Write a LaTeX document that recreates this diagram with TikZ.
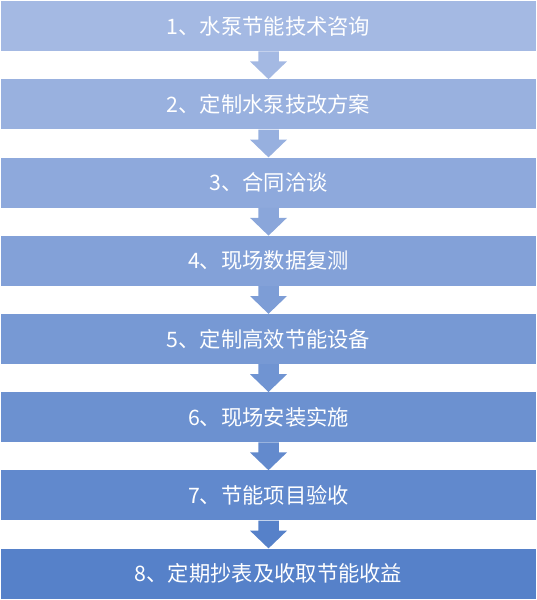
\documentclass[tikz,border=0pt]{standalone}
\usepackage{fontspec}
\newfontfamily\cjk{Noto Sans CJK SC}
\usetikzlibrary{calc}
\definecolor{cfirst}{HTML}{A4B9E3}
\definecolor{clast}{HTML}{5681C9}
\colorlet{c1}{clast!0!cfirst}
\colorlet{c2}{clast!14.3!cfirst}
\colorlet{c3}{clast!28.6!cfirst}
\colorlet{c4}{clast!42.9!cfirst}
\colorlet{c5}{clast!57.1!cfirst}
\colorlet{c6}{clast!71.4!cfirst}
\colorlet{c7}{clast!85.7!cfirst}
\colorlet{c8}{clast!100!cfirst}
\colorlet{a1}{clast!0!cfirst}
\colorlet{a2}{clast!16.7!cfirst}
\colorlet{a3}{clast!33.3!cfirst}
\colorlet{a4}{clast!50!cfirst}
\colorlet{a5}{clast!66.7!cfirst}
\colorlet{a6}{clast!83.3!cfirst}
\colorlet{a7}{clast!100!cfirst}
\tikzset{
  stepbox/.style={minimum width=534.4pt, minimum height=50pt, inner sep=0pt,
    text=white, font=\cjk\fontsize{21.3}{25}\selectfont},
}
\begin{document}
\begin{tikzpicture}[x=1pt,y=-1pt]
\useasboundingbox (0,0) rectangle (537,600);
\node[stepbox, fill=c1] (b1) at (268.5,26.2) {1、水泵节能技术咨询};
\node[stepbox, fill=c2] (b2) at (268.5,104.4) {2、定制水泵技改方案};
\node[stepbox, fill=c3] (b3) at (268.5,182.6) {3、合同洽谈};
\node[stepbox, fill=c4] (b4) at (268.5,260.8) {4、现场数据复测};
\node[stepbox, fill=c5] (b5) at (268.5,339.0) {5、定制高效节能设备};
\node[stepbox, fill=c6] (b6) at (268.5,417.2) {6、现场安装实施};
\node[stepbox, fill=c7] (b7) at (268.5,495.4) {7、节能项目验收};
\node[stepbox, fill=c8] (b8) at (268.5,573.6) {8、定期抄表及收取节能收益};
\foreach \i/\j in {1/2,2/3,3/4,4/5,5/6,6/7,7/8}{
  \path[fill=a\i] ($(b\i.south)+(-10.25,0)$) -- ($(b\i.south)+(10.25,0)$)
    -- ($(b\i.south)+(10.25,10)$) -- ($(b\i.south)+(18.5,10)$)
    -- (b\j.north) -- ($(b\i.south)+(-18.5,10)$)
    -- ($(b\i.south)+(-10.25,10)$) -- cycle;
}
\end{tikzpicture}
\end{document}
